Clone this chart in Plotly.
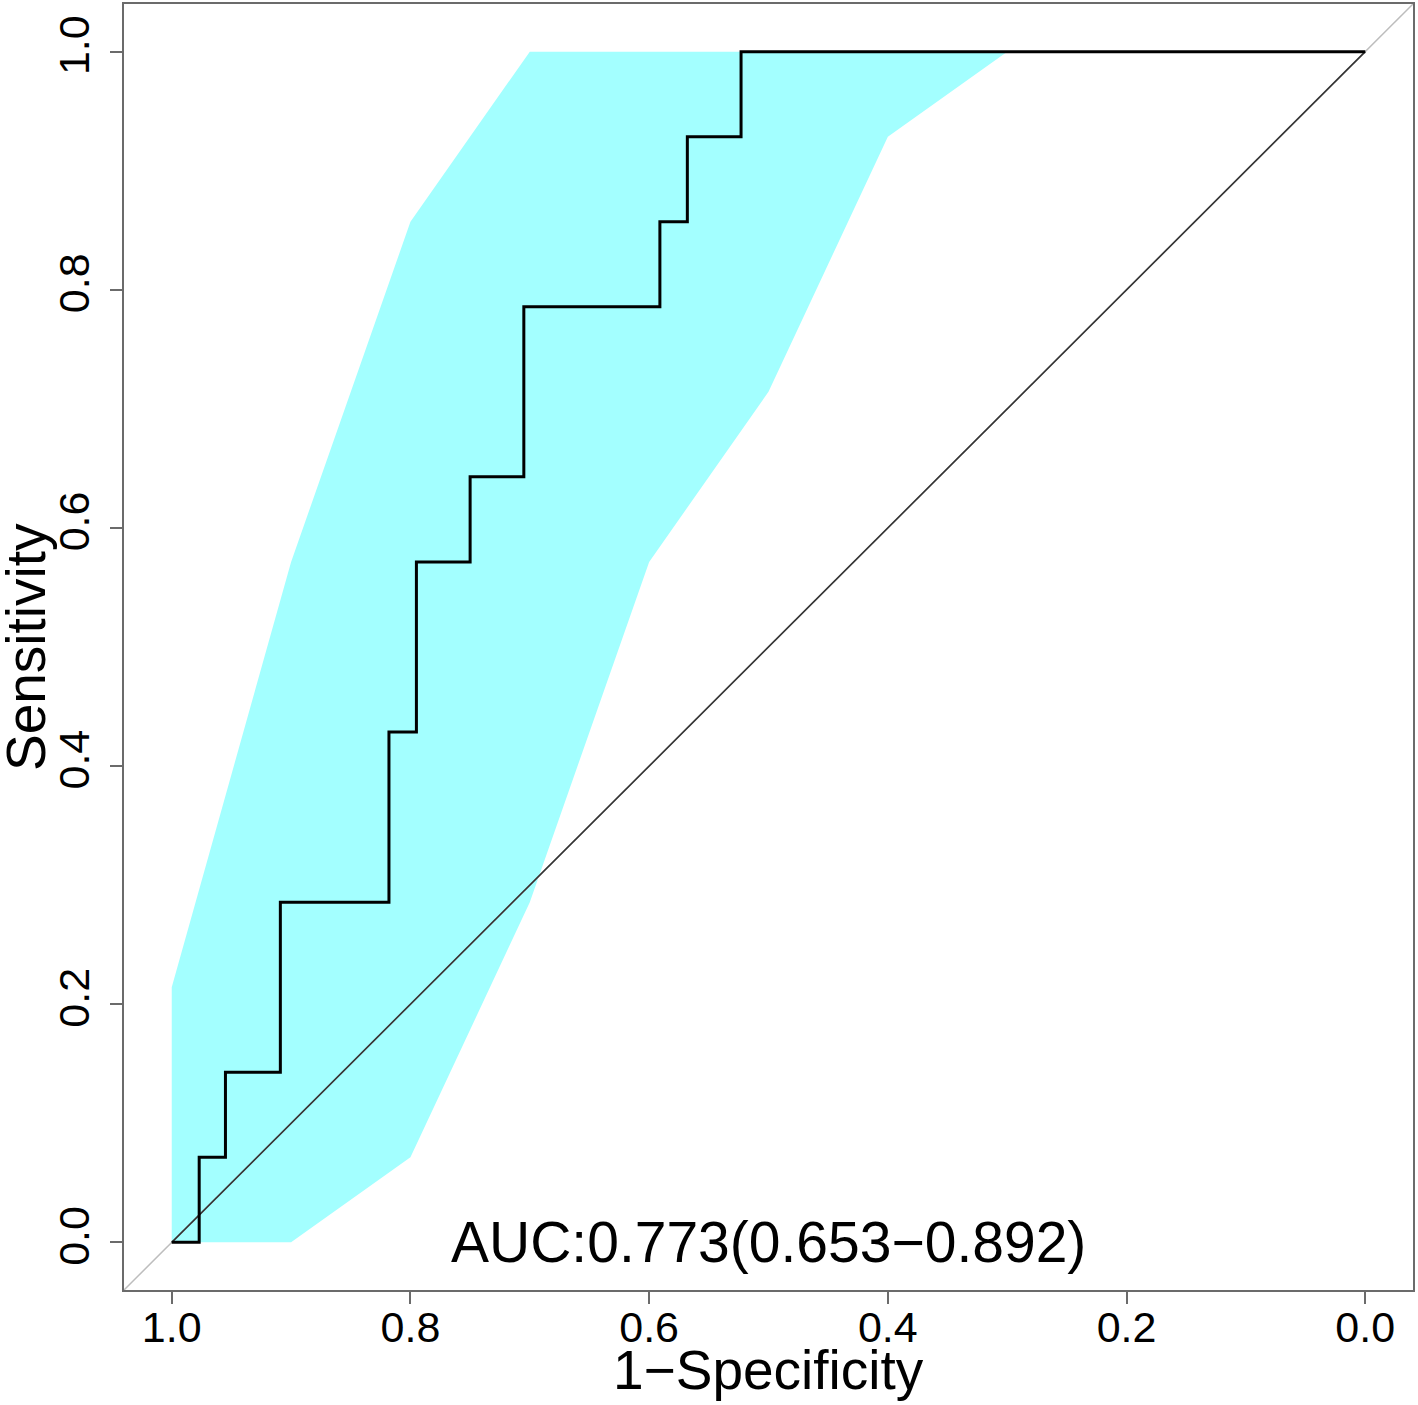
import plotly.graph_objects as go

# ROC steps (specificity, sensitivity)
roc_spec = [1.0, 0.977, 0.977, 0.955, 0.955, 0.909, 0.909, 0.818, 0.818, 0.795, 0.795,
            0.75, 0.75, 0.705, 0.705, 0.591, 0.591, 0.568, 0.568, 0.523, 0.523, 0.0]
roc_sens = [0.0, 0.0, 0.0714, 0.0714, 0.1429, 0.1429, 0.2857, 0.2857, 0.4286, 0.4286, 0.5714,
            0.5714, 0.6429, 0.6429, 0.7857, 0.7857, 0.8571, 0.8571, 0.9286, 0.9286, 1.0, 1.0]

# sensitivity CI at a grid of specificities
ci_spec = [1.0, 0.9, 0.8, 0.7, 0.6, 0.5, 0.4, 0.3, 0.2, 0.1, 0.0]
ci_lower = [0.0, 0.0, 0.0714, 0.2857, 0.5714, 0.7143, 0.9286, 1.0, 1.0, 1.0, 1.0]
ci_upper = [0.2143, 0.5714, 0.8571, 1.0, 1.0, 1.0, 1.0, 1.0, 1.0, 1.0, 1.0]

tick_vals = [1.0, 0.8, 0.6, 0.4, 0.2, 0.0]
tick_text = ["1.0", "0.8", "0.6", "0.4", "0.2", "0.0"]

auc_label = "AUC:0.773(0.653\u22120.892)"

FONT = "Liberation Sans, Arial, Helvetica, sans-serif"
AXCOL = "#6b6b6b"

fig = go.Figure()

# confidence band
fig.add_trace(go.Scatter(
    x=ci_spec + ci_spec[::-1], y=ci_lower + ci_upper[::-1],
    fill="toself", fillcolor="#A3FFFF", mode="lines", line=dict(width=0),
    hoverinfo="skip", showlegend=False))

# identity lines
fig.add_trace(go.Scatter(x=[1.04, -0.04], y=[-0.04, 1.04], mode="lines",
                         line=dict(color="#bdbdbd", width=1.5), showlegend=False))
fig.add_trace(go.Scatter(x=[1.0, 0.0], y=[0.0, 1.0], mode="lines",
                         line=dict(color="#333333", width=1.6), showlegend=False))

# ROC curve
fig.add_trace(go.Scatter(x=roc_spec, y=roc_sens, mode="lines",
                         line=dict(color="black", width=3), showlegend=False))

fig.add_annotation(x=0.5, y=0.0, xref="x", yref="y", text=auc_label, showarrow=False,
                   font=dict(family=FONT, size=57, color="black"),
                   xanchor="center", yanchor="middle")

fig.add_annotation(x=0, y=0.5, xref="paper", yref="paper", text="Sensitivity",
                   showarrow=False, textangle=-90, xshift=-98,
                   font=dict(family=FONT, size=55, color="black"),
                   xanchor="center", yanchor="middle")
fig.add_annotation(x=0.5, y=0, xref="paper", yref="paper", text="1\u2212Specificity",
                   showarrow=False, yshift=-80,
                   font=dict(family=FONT, size=55, color="black"),
                   xanchor="center", yanchor="middle")

axis_common = dict(
    tickvals=tick_vals, ticktext=tick_text, ticks="outside", ticklen=12,
    tickwidth=2, tickcolor=AXCOL, showline=True, linecolor=AXCOL, linewidth=2,
    mirror=True, showgrid=False, zeroline=False, automargin=False,
    tickfont=dict(family=FONT, size=43, color="black"),
)

fig.update_xaxes(range=[1.04, -0.04], ticklabelstandoff=-14, **axis_common)
fig.update_yaxes(range=[-0.04, 1.04], tickangle=-90, ticklabelstandoff=4, **axis_common)

fig.update_layout(
    width=1418, height=1405,
    margin=dict(l=124, r=5, t=4, b=115),
    plot_bgcolor="white", paper_bgcolor="white",
    showlegend=False,
)

fig.write_html("out.html", config={"displayModeBar": False},
               post_script="document.body.style.margin='0';")
